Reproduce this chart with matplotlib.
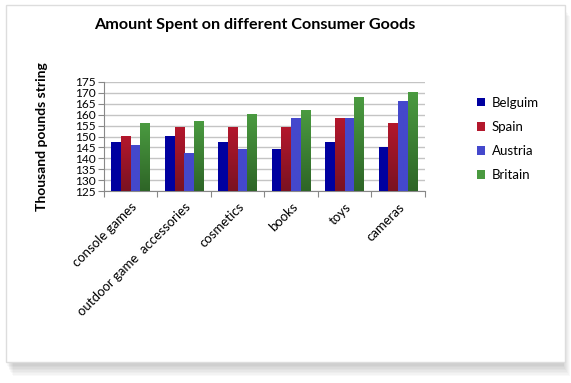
import numpy as np
import matplotlib.pyplot as plt
from matplotlib.patches import Rectangle
from matplotlib.colors import LinearSegmentedColormap

categories = ['console games', 'outdoor game  accessories', 'cosmetics', 'books', 'toys', 'cameras']
countries = ['Belguim', 'Spain', 'Austria', 'Britain']
belgium = [147, 150, 147, 144, 147, 145]
spain = [150, 154, 154, 154, 158, 156]
austria = [146, 142, 144, 158, 158, 166]
britain = [156, 157, 160, 162, 168, 170]
y_ticks = list(range(125, 180, 5))

series = [belgium, spain, austria, britain]
# (top colour, bottom colour) for each series
colors = [('#0000a0', '#0000a0'),
          ('#b3172c', '#7a1222'),
          ('#4448cc', '#4448cc'),
          ('#4a9a40', '#2e6527')]

plt.rcParams['font.family'] = ['Lato', 'DejaVu Sans']

fig = plt.figure(figsize=(5.71, 3.83), dpi=100)
fig.patch.set_facecolor('white')

# paper card with soft shadow
for i in range(8):
    fig.patches.append(Rectangle((0.012 + i * 0.0015, 0.045 - i * 0.004), 0.975, 0.94,
                                 transform=fig.transFigure, facecolor='#000000',
                                 alpha=0.025, edgecolor='none', zorder=0))
fig.patches.append(Rectangle((0.011, 0.055), 0.978, 0.932, transform=fig.transFigure,
                             facecolor='white', edgecolor='#dddddd', linewidth=1, zorder=1))

ax = fig.add_axes([0.182, 0.501, 0.562, 0.285])
ax.set_zorder(2)

n = len(categories)
width = 0.18
x = np.arange(n)
grad = np.linspace(0, 1, 64).reshape(-1, 1)
for k, vals in enumerate(series):
    cmap = LinearSegmentedColormap.from_list('g%d' % k, [colors[k][1], colors[k][0]])
    offs = (k - 1.5) * width
    for i, v in enumerate(vals):
        x0 = x[i] + offs - width / 2
        ax.imshow(grad, extent=(x0, x0 + width, 125, v), origin='lower', cmap=cmap,
                  aspect='auto', zorder=3, interpolation='bilinear')

ax.set_xlim(-0.5, n - 0.5)
ax.set_ylim(125, 175)
ax.set_yticks(y_ticks)
ax.set_yticklabels([str(t) for t in y_ticks], fontsize=8.6)
ax.yaxis.grid(True, color='#c4c4c4', linewidth=1)
ax.set_axisbelow(True)

ax.set_xticks(np.arange(-0.5, n, 1.0))
ax.set_xticklabels([])
ax.set_xticks(x, minor=True)
ax.set_xticklabels(categories, minor=True, rotation=45, ha='right',
                   rotation_mode='anchor', fontsize=9.5)
ax.tick_params(axis='x', which='minor', length=0, pad=7)
ax.tick_params(axis='x', which='major', length=4, color='#888888')
ax.tick_params(axis='y', length=4, color='#888888', pad=2)

for s in ['top', 'right']:
    ax.spines[s].set_visible(False)
ax.spines['left'].set_color('#888888')
ax.spines['bottom'].set_color('#888888')

ax.set_ylabel('Thousand pounds string', fontsize=10, fontweight='bold', labelpad=19)
fig.text(0.447, 0.935, 'Amount Spent on different Consumer Goods', ha='center', va='center',
         fontsize=11.6, fontweight='bold')

handles = [Rectangle((0, 0), 1, 1, facecolor=c[0]) for c in colors]
fig.legend(handles, countries, loc='upper left', bbox_to_anchor=(0.815, 0.778),
           frameon=False, fontsize=9.5, handlelength=0.6, handleheight=0.6,
           handletextpad=0.5, labelspacing=0.92)

fig.savefig('out.png', dpi=100)
